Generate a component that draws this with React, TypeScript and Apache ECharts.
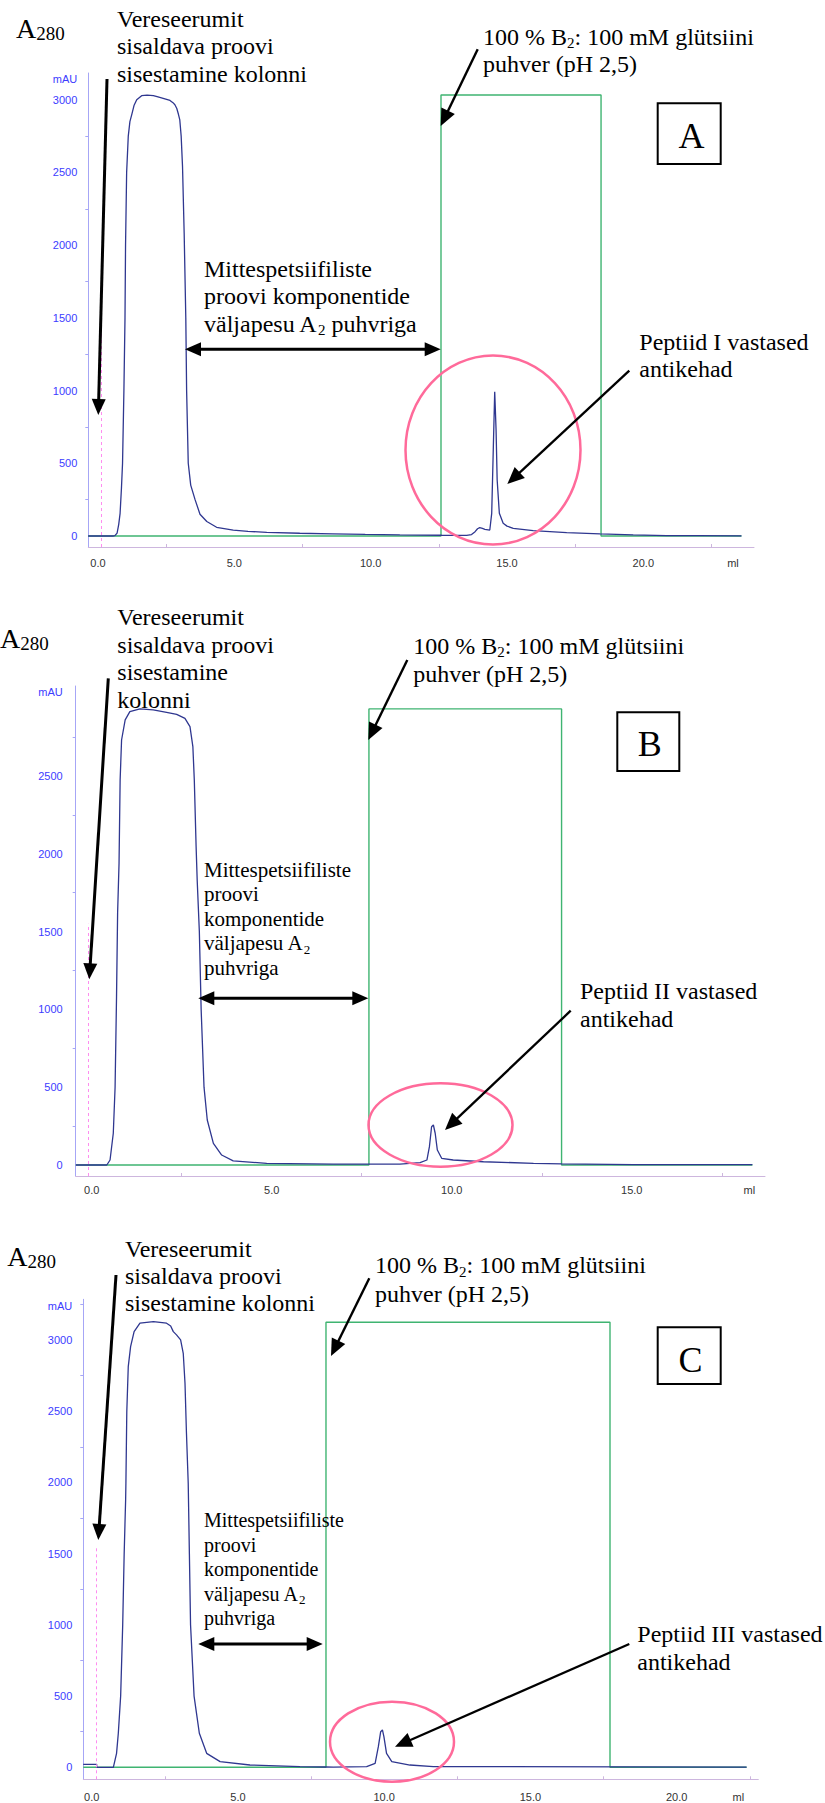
import React, { useEffect, useRef } from 'react';
import * as echarts from 'echarts';

// ---------- DATA (elution volume in ml, absorbance A280 in mAU) ----------
const uvA: [number, number][] = [
  [-0.36, 0], [0.55, 0], [0.62, 2], [0.7, 20], [0.76, 80], [0.81, 156], [0.86, 330], [0.9, 500],
  [0.95, 1000], [0.99, 1500], [1.01, 2000], [1.05, 2500], [1.11, 2750], [1.17, 2850], [1.24, 2900],
  [1.32, 2960], [1.42, 3000], [1.6, 3028], [1.8, 3032], [2.03, 3028], [2.2, 3020], [2.39, 3010],
  [2.64, 2995], [2.75, 2980], [2.82, 2966], [2.89, 2940], [2.95, 2900], [3.0, 2861], [3.05, 2750],
  [3.1, 2540], [3.16, 2083], [3.22, 1500], [3.25, 1000], [3.31, 500], [3.4, 350], [3.56, 250],
  [3.74, 150], [3.99, 100], [4.35, 60], [4.96, 40], [5.5, 32], [6.19, 25], [7.4, 19], [8.6, 15],
  [9.8, 11], [11.07, 8], [12.6, 5], [13.52, 4], [13.7, 10], [13.83, 30], [13.92, 50], [14.0, 57],
  [14.1, 52], [14.19, 46], [14.37, 41], [14.44, 156], [14.5, 614], [14.55, 992], [14.6, 729],
  [14.64, 385], [14.72, 156], [14.86, 87], [15.0, 68], [15.23, 53], [15.96, 37], [17.19, 23],
  [18.41, 14], [19.63, 7], [20.85, 3], [22.0, 2], [23.6, 1],
];
const uvB: [number, number][] = [
  [-0.44, 0], [0.42, 0], [0.51, 32], [0.6, 204], [0.65, 500], [0.69, 1082], [0.72, 1620],
  [0.76, 1940], [0.79, 2474], [0.83, 2731], [0.93, 2860], [1.06, 2913], [1.34, 2931], [1.71, 2924],
  [2.08, 2909], [2.36, 2896], [2.59, 2870], [2.73, 2817], [2.81, 2689], [2.85, 2474], [2.9, 2046],
  [2.93, 1832], [2.99, 1500], [3.04, 1000], [3.12, 500], [3.21, 289], [3.38, 139], [3.61, 64],
  [3.93, 26], [4.86, 11], [6.71, 5], [7.64, 5], [8.56, 6], [9.12, 15], [9.31, 32], [9.38, 118],
  [9.44, 246], [9.49, 257], [9.54, 204], [9.6, 96], [9.72, 43], [10.04, 32], [10.88, 21],
  [12.27, 11], [13.05, 7], [15.04, 3], [18.35, 2],
];
const uvC: [number, number][] = [
  [-0.29, 21], [0.17, 21], [0.17, 0], [0.74, 0], [0.85, 98], [0.91, 239], [0.99, 500], [1.06, 999],
  [1.11, 1498], [1.16, 1877], [1.17, 1999], [1.2, 2497], [1.25, 2813], [1.33, 2954], [1.45, 3059],
  [1.65, 3118], [2.11, 3129], [2.56, 3118], [2.7, 3099], [2.79, 3059], [2.9, 3036], [3.04, 3001],
  [3.13, 2907], [3.19, 2697], [3.24, 2345], [3.3, 1994], [3.34, 1498], [3.38, 999], [3.5, 500],
  [3.68, 239], [3.93, 98], [4.39, 40], [5.41, 16], [7.12, 5], [8.01, 2], [8.26, 1], [9.4, 5],
  [9.69, 28], [9.8, 145], [9.88, 250], [9.94, 262], [9.99, 215], [10.08, 98], [10.26, 40],
  [10.88, 16], [11.68, 5], [22.39, 1],
];
// elution buffer B2 concentration, %
const bufA: [number, number][] = [[-0.36, 0], [12.58, 0], [12.58, 100], [18.45, 100], [18.45, 0], [23.6, 0]];
const bufB: [number, number][] = [[-0.44, 0], [7.7, 0], [7.7, 100], [13.05, 100], [13.05, 0], [18.35, 0]];
const bufC: [number, number][] = [[-0.29, 0], [8.01, 0], [8.01, 100], [17.72, 100], [17.72, 0], [22.39, 0]];
// injection marks (ml)
const injectA = 0.12;
const injectB = -0.09;
const injectC = 0.17;
const injectTop = 1550;
// tick labels
const xLabelsA = [0, 5, 10, 15, 20];
const xLabelsB = [0, 5, 10, 15];
const xLabelsC = [0, 5, 10, 15, 20];
const xMinorA = [2.5, 7.5, 12.5, 17.5, 22.5];
const xMinorB = [2.5, 7.5, 12.5, 17.5];
const xMinorC = [2.5, 7.5, 12.5, 17.5, 22.5];
const yLabelsA = [0, 500, 1000, 1500, 2000, 2500, 3000];
const yLabelsB = [0, 500, 1000, 1500, 2000, 2500];
const yLabelsC = [0, 500, 1000, 1500, 2000, 2500, 3000];
const yMinorA = [250, 750, 1250, 1750, 2250, 2750];
const yMinorB = [250, 750, 1250, 1750, 2250, 2750];
const yMinorC = [250, 750, 1250, 1750, 2250, 2750, 3250];

const SANS = '"Liberation Sans", Arial, sans-serif';
const SERIF = '"Liberation Serif", "Times New Roman", serif';
const BLUE = '#2f3790';
const GREEN = '#3fb471';
const PINK = '#ff6a9a';

const panels = [
  { grid: { left: 88.3, top: 73, width: 665.7, height: 474 }, x: [-0.356, 24.06], y: [-75.7, 3184], y2: [-2.496, 104.98],
    xl: xLabelsA, xm: xMinorA, yl: yLabelsA, ym: yMinorA, uv: uvA, buf: bufA, inj: injectA, mx: 10.8, my: 11, gapY: -6, gapX: -21 },
  { grid: { left: 75.7, top: 686, width: 689.3, height: 490 }, x: [-0.444, 18.7], y: [-70.7, 3078], y2: [-2.41, 105.02],
    xl: xLabelsB, xm: xMinorB, yl: yLabelsB, ym: yMinorB, uv: uvB, buf: bufB, inj: injectB, mx: 8.5, my: 13, gapY: -5.7, gapX: -15.7 },
  { grid: { left: 83.3, top: 1299.3, width: 675, height: 480 }, x: [-0.287, 22.79], y: [-84.3, 3286], y2: [-2.7, 105.15],
    xl: xLabelsC, xm: xMinorC, yl: yLabelsC, ym: yMinorC, uv: uvC, buf: bufC, inj: injectC, mx: 11.9, my: 11, gapY: -6.7, gapX: -20 },
];

// ---------- annotation helpers ----------
function arrowHead(tx: number, ty: number, ux: number, uy: number, hl: number, hw: number) {
  const bx = tx - ux * hl, by = ty - uy * hl, nx = -uy, ny = ux;
  return {
    type: 'polygon', z: 20,
    shape: { points: [[tx, ty], [bx + nx * hw / 2, by + ny * hw / 2], [bx - nx * hw / 2, by - ny * hw / 2]] },
    style: { fill: '#000' },
  };
}
function arrow(x1: number, y1: number, x2: number, y2: number, lw: number, hl = 16, hw = 15) {
  const dx = x2 - x1, dy = y2 - y1, len = Math.hypot(dx, dy), ux = dx / len, uy = dy / len;
  return [
    { type: 'line', z: 20, shape: { x1, y1, x2: x2 - ux * (hl - 2), y2: y2 - uy * (hl - 2) }, style: { stroke: '#000', lineWidth: lw } },
    arrowHead(x2, y2, ux, uy, hl, hw),
  ];
}
function dblArrow(xl: number, xr: number, y: number, lw: number, hl = 16, hw = 14) {
  return [
    { type: 'line', z: 20, shape: { x1: xl + hl - 2, y1: y, x2: xr - hl + 2, y2: y }, style: { stroke: '#000', lineWidth: lw } },
    arrowHead(xl, y, -1, 0, hl, hw),
    arrowHead(xr, y, 1, 0, hl, hw),
  ];
}
function label(x: number, baseline: number, text: string, fs: number, L: number, subFs = 15, subDrop = 3.3) {
  const subH = L - 2 * subDrop + 0.6748 * (subFs - fs);
  return {
    type: 'text', z: 20, x, y: baseline - L / 2 - 0.3374 * fs,
    style: {
      text, fontSize: fs, fontFamily: SERIF, fill: '#000', lineHeight: L, align: 'left', verticalAlign: 'top',
      rich: { s: { fontSize: subFs, fontFamily: SERIF, fill: '#000', verticalAlign: 'bottom', height: subH, lineHeight: L } },
    },
  };
}
function boxLetter(x: number, y: number, w: number, h: number, letter: string, cx: number, cy: number) {
  return [
    { type: 'rect', z: 20, shape: { x, y, width: w, height: h }, style: { fill: '#fff', stroke: '#000', lineWidth: 2 } },
    { type: 'text', z: 21, x: cx, y: cy, style: { text: letter, fontSize: 36, fontFamily: SERIF, fill: '#000', align: 'center', verticalAlign: 'middle' } },
  ];
}
function ellipse(cx: number, cy: number, rx: number, ry: number) {
  return { type: 'ellipse', z: 15, shape: { cx, cy, rx, ry }, style: { fill: 'none', stroke: PINK, lineWidth: 2.5 } };
}

function buildOption() {
  const grid: any[] = [], xAxis: any[] = [], yAxis: any[] = [], series: any[] = [];
  panels.forEach((p, i) => {
    grid.push({ ...p.grid });
    xAxis.push({
      type: 'value', gridIndex: i, min: p.x[0], max: p.x[1],
      axisLine: { show: true, onZero: false, lineStyle: { color: '#cdb6de', width: 1 } },
      axisTick: { show: true, inside: true, length: 3, customValues: p.xm, lineStyle: { color: '#cdb6de' } },
      axisLabel: { show: true, customValues: p.xl, formatter: (v: number) => v.toFixed(1), color: '#333', fontSize: 11, fontFamily: SANS, margin: p.mx },
      splitLine: { show: false },
      name: 'ml', nameLocation: 'end', nameGap: p.gapX,
      nameTextStyle: { color: '#333', fontSize: 11, fontFamily: SANS, align: 'center', verticalAlign: 'top', padding: [p.mx, 0, 0, 0] },
    });
    yAxis.push({
      type: 'value', gridIndex: i, min: p.y[0], max: p.y[1], position: 'left',
      axisLine: { show: true, onZero: false, lineStyle: { color: '#a6a6f6', width: 1 } },
      axisTick: { show: true, length: 3, customValues: p.ym, lineStyle: { color: '#a6a6f6' } },
      axisLabel: { show: true, customValues: p.yl, formatter: (v: number) => String(Math.round(v)), color: '#3c3cff', fontSize: 11, fontFamily: SANS, margin: p.my },
      splitLine: { show: false },
      name: 'mAU', nameLocation: 'end', nameGap: p.gapY,
      nameTextStyle: { color: '#3c3cff', fontSize: 11, fontFamily: SANS, align: 'right', verticalAlign: 'middle', padding: [0, p.my, 0, 0] },
    });
    yAxis.push({
      type: 'value', gridIndex: i, min: p.y2[0], max: p.y2[1], show: false, position: 'left',
      axisLine: { show: false }, axisTick: { show: false }, axisLabel: { show: false }, splitLine: { show: false },
    });
    series.push({
      type: 'line', name: '%B ' + i, xAxisIndex: i, yAxisIndex: 2 * i + 1, data: p.buf, showSymbol: false, symbol: 'none',
      lineStyle: { color: GREEN, width: 1.4 }, z: 2, silent: true,
    });
    series.push({
      type: 'line', name: 'UV ' + i, xAxisIndex: i, yAxisIndex: 2 * i, data: p.uv, showSymbol: false, symbol: 'none',
      lineStyle: { color: BLUE, width: 1.3 }, z: 3, silent: true,
      markLine: {
        silent: true, symbol: ['none', 'none'], label: { show: false },
        lineStyle: { color: '#ff8cf0', type: [3, 3], width: 1 },
        data: [[{ coord: [p.inj, p.y[0]] }, { coord: [p.inj, injectTop] }]],
      },
    });
  });

  const graphic: any[] = [
    // ---- panel A ----
    label(16, 38.3, 'A{s|280}', 28, 32, 19, 1.7),
    label(117, 27.3, 'Vereseerumit\nsisaldava proovi\nsisestamine kolonni', 24, 27.3),
    ...arrow(107, 79, 98.3, 415, 3, 16, 14),
    label(483, 45, '100 % B{s|2}: 100 mM glütsiini\npuhver (pH 2,5)', 24, 27),
    ...arrow(477.7, 49.3, 440.7, 126, 2.4, 17, 15),
    ...boxLetter(657.7, 103.3, 63, 60.7, 'A', 691.5, 135.8),
    label(204, 276.7, 'Mittespetsiifiliste\nproovi komponentide\nväljapesu A{s|2} puhvriga', 24, 27.5),
    ...dblArrow(185, 440.7, 349.3, 3),
    label(639.3, 350, 'Peptiid I vastased\nantikehad', 24, 27),
    ...arrow(629.3, 370.7, 507.3, 484, 2.3, 17, 15),
    ellipse(493, 450, 87.5, 94.5),
    // ---- panel B ----
    label(0, 648.3, 'A{s|280}', 28, 32, 19, 1.7),
    label(117.3, 625, 'Vereseerumit\nsisaldava proovi\nsisestamine\nkolonni', 24, 27.7),
    ...arrow(108.3, 678.3, 89.3, 979.3, 3, 16, 14),
    label(413.3, 654, '100 % B{s|2}: 100 mM glütsiini\npuhver (pH 2,5)', 24, 27.7),
    ...arrow(407.3, 660, 368.3, 740, 2.4, 17, 15),
    ...boxLetter(617.3, 712.3, 62, 58.7, 'B', 649.7, 744.2),
    label(204, 876.7, 'Mittespetsiifiliste\nproovi\nkomponentide\nväljapesu A{s|2}\npuhvriga', 21, 24.6, 13, 3),
    ...dblArrow(198.3, 368.3, 998.3, 3),
    label(580, 999.3, 'Peptiid II vastased\nantikehad', 24, 27.4),
    ...arrow(570.7, 1010.7, 445, 1130, 2.3, 17, 15),
    ellipse(440.5, 1125, 72, 41.7),
    // ---- panel C ----
    label(7.3, 1266, 'A{s|280}', 28, 32, 19, 1.7),
    label(125, 1256.7, 'Vereseerumit\nsisaldava proovi\nsisestamine kolonni', 24, 27.2),
    ...arrow(116, 1275, 98.3, 1540, 3, 16, 14),
    label(375, 1273.3, '100 % B{s|2}: 100 mM glütsiini\npuhver (pH 2,5)', 24, 28.4),
    ...arrow(369.3, 1278.3, 331, 1356, 2.4, 17, 15),
    ...boxLetter(657.7, 1327.3, 63, 56.7, 'C', 690.5, 1360),
    label(204, 1526.7, 'Mittespetsiifiliste\nproovi\nkomponentide\nväljapesu A{s|2}\npuhvriga', 20, 24.6, 13, 3),
    ...dblArrow(198.3, 322.7, 1644, 3),
    label(637.3, 1641.7, 'Peptiid III vastased\nantikehad', 24, 28.3),
    ...arrow(629.3, 1644, 395, 1746.7, 2.3, 17, 15),
    ellipse(392, 1741.7, 62, 40),
  ];

  return { animation: false, backgroundColor: '#fff', grid, xAxis, yAxis, series, graphic };
}

export default function App() {
  const ref = useRef<HTMLDivElement>(null);
  useEffect(() => {
    document.body.style.margin = '0';
    document.body.style.overflow = 'hidden';
    const chart = echarts.init(ref.current!, null, { renderer: 'svg' });
    chart.setOption(buildOption() as any);
    return () => chart.dispose();
  }, []);
  return <div ref={ref} style={{ width: 825, height: 1803 }} />;
}
